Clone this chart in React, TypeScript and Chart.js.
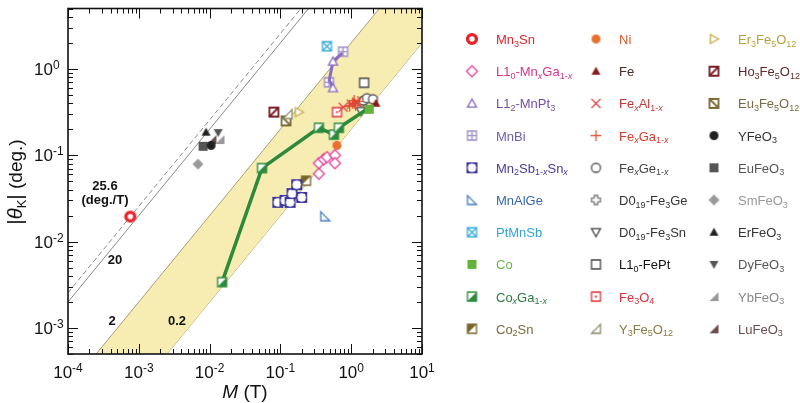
import { useEffect, useRef } from 'react';
import { Chart, registerables } from 'chart.js';

Chart.register(...registerables);

const FONT = "'Liberation Sans', Arial, sans-serif";

// Axis ranges and tick decades
const M_MIN = 1e-4;
const M_MAX = 10;
const T_MIN = 5e-4;
const T_MAX = 5;
const xDecades = [-4, -3, -2, -1, 0, 1];
const yDecades = [-3, -2, -1, 0];

// Reference slopes |theta_K| / M (deg./T)
const dashedSlope = 25.6;
const solidSlope = 20;
const bandHigh = 2;
const bandLow = 0.2;

// Series data: x = M (T), y = |theta_K| (deg.)
const mn3sn = [{ x: 7.6e-4, y: 0.0195 }];
const mnGa = [
  { x: 0.35, y: 0.061 }, { x: 0.35, y: 0.081 }, { x: 0.41, y: 0.09 },
  { x: 0.455, y: 0.095 }, { x: 0.59, y: 0.1 }, { x: 0.59, y: 0.081 },
];
const mnPt3 = [
  { x: 0.75, y: 1.52 }, { x: 0.553, y: 1.22 }, { x: 0.49, y: 0.74 }, { x: 0.553, y: 0.6 },
];
const mnPt3Hidden = [0, 2];
const mnBi = [{ x: 0.766, y: 1.58 }, { x: 0.485, y: 0.7 }];
const mn2Sb = [
  { x: 0.092, y: 0.0285 }, { x: 0.116, y: 0.03 }, { x: 0.137, y: 0.0285 },
  { x: 0.146, y: 0.036 }, { x: 0.2, y: 0.0325 }, { x: 0.17, y: 0.0456 },
];
const mnAlGe = [{ x: 0.43, y: 0.0197 }];
const ptMnSb = [{ x: 0.455, y: 1.83 }];
const co = [{ x: 1.8, y: 0.34 }];
const coGa = [
  { x: 0.015, y: 0.0034 }, { x: 0.055, y: 0.071 }, { x: 0.35, y: 0.208 },
  { x: 0.57, y: 0.173 }, { x: 0.67, y: 0.208 }, { x: 1.75, y: 0.35 },
];
const coGaHidden = [5];
const co2Sn = [{ x: 0.23, y: 0.0507 }];
const ni = [{ x: 0.63, y: 0.13 }];
const fe = [{ x: 2.24, y: 0.4 }];
const feAl = [{ x: 0.77, y: 0.36 }, { x: 1.0, y: 0.39 }, { x: 1.2, y: 0.41 }];
const feGa = [
  { x: 0.95, y: 0.37 }, { x: 1.05, y: 0.4 }, { x: 1.15, y: 0.38 },
  { x: 1.25, y: 0.42 }, { x: 1.1, y: 0.43 },
];
const feGe = [{ x: 1.5, y: 0.43 }, { x: 1.67, y: 0.457 }, { x: 2.03, y: 0.445 }];
const fe3Ge = [{ x: 1.42, y: 0.41 }];
const fe3Sn = [{ x: 1.37, y: 0.324 }];
const fePt = [{ x: 1.52, y: 0.69 }];
const fe3O4 = [{ x: 0.63, y: 0.316 }];
const y3Fe5O12 = [{ x: 0.126, y: 0.3 }];
const er3Fe5O12 = [{ x: 0.183, y: 0.316 }];
const ho3Fe5O12 = [{ x: 0.081, y: 0.316 }];
const eu3Fe5O12 = [{ x: 0.12, y: 0.25 }];
const yFeO3 = [{ x: 0.0105, y: 0.13 }];
const euFeO3 = [{ x: 0.0081, y: 0.127 }];
const smFeO3 = [{ x: 0.00685, y: 0.079 }];
const erFeO3 = [{ x: 0.0089, y: 0.185 }];
const dyFeO3 = [{ x: 0.0132, y: 0.183 }];
const ybFeO3 = [{ x: 0.014, y: 0.152 }];
const luFeO3 = [{ x: 0.0108, y: 0.152 }];

const seriesLabels = [
  'Mn_{3}Sn', 'L1_{0}-Mn_{x}Ga_{1-x}', 'L1_{2}-MnPt_{3}', 'MnBi', 'Mn_{2}Sb_{1-x}Sn_{x}',
  'MnAlGe', 'PtMnSb', 'Co', 'Co_{x}Ga_{1-x}', 'Co_{2}Sn',
  'Ni', 'Fe', 'Fe_{x}Al_{1-x}', 'Fe_{x}Ga_{1-x}', 'Fe_{x}Ge_{1-x}',
  'D0_{19}-Fe_{3}Ge', 'D0_{19}-Fe_{3}Sn', 'L1_{0}-FePt', 'Fe_{3}O_{4}', 'Y_{3}Fe_{5}O_{12}',
  'Er_{3}Fe_{5}O_{12}', 'Ho_{3}Fe_{5}O_{12}', 'Eu_{3}Fe_{5}O_{12}', 'YFeO_{3}', 'EuFeO_{3}',
  'SmFeO_{3}', 'ErFeO_{3}', 'DyFeO_{3}', 'YbFeO_{3}', 'LuFeO_{3}',
];
const seriesData = [
  mn3sn, mnGa, mnPt3, mnBi, mn2Sb, mnAlGe, ptMnSb, co, coGa, co2Sn,
  ni, fe, feAl, feGa, feGe, fe3Ge, fe3Sn, fePt, fe3O4, y3Fe5O12,
  er3Fe5O12, ho3Fe5O12, eu3Fe5O12, yFeO3, euFeO3, smFeO3, erFeO3, dyFeO3, ybFeO3, luFeO3,
];
const seriesKinds = [
  'ring', 'diamondOpen', 'triUpOpen', 'squareGrid', 'squareCircle', 'rtriA', 'squareX', 'squareFill', 'halfLR', 'halfUL',
  'circleFill', 'triUpFill', 'xcross', 'plus', 'circleOpen', 'crossOpen', 'triDownOpen', 'squareOpen', 'squareDot', 'rtriB',
  'triRightOpen', 'diagA', 'diagB', 'circleFill', 'squareFill', 'diamondFill', 'triUpFill', 'triDownFill', 'rtriBFill', 'rtriBFill',
];
const markerColors = [
  '#e8232b', '#e0449a', '#8668c0', '#9c8cc8', '#3c35a0', '#4a7cc0', '#32aadc', '#64b43c', '#2c8a3c', '#7a6428',
  '#ea7030', '#8c1c1c', '#e0403c', '#e4502c', '#555555', '#777777', '#444444', '#444444', '#e0303c', '#8c8c6c',
  '#c8a838', '#7c1c24', '#7a6a34', '#222222', '#555555', '#999999', '#222222', '#555555', '#999999', '#6c4c4c',
];
const textColors = [
  '#e8232b', '#d8348c', '#7050a8', '#7060b0', '#483c9c', '#3868b0', '#30a4dc', '#6cb844', '#2c7c40', '#7a6a38',
  '#dc5a30', '#502828', '#c03838', '#d83a2c', '#444444', '#333333', '#333333', '#111111', '#e0303c', '#8a7a44',
  '#b8a040', '#602828', '#7a6a44', '#333333', '#555555', '#999999', '#333333', '#555555', '#888888', '#6a4a4a',
];

function makeMarker(kind: string, color: string, s: number): HTMLCanvasElement {
  const pad = 3;
  const size = Math.ceil(s + pad * 2);
  const c = document.createElement('canvas');
  c.width = size;
  c.height = size;
  const g = c.getContext('2d') as CanvasRenderingContext2D;
  const cx = size / 2;
  const cy = size / 2;
  const h = s / 2;
  g.strokeStyle = color;
  g.fillStyle = color;
  g.lineWidth = 1.3;
  const poly = (pts: number[][]) => {
    g.beginPath();
    pts.forEach((p, i) => (i ? g.lineTo(cx + p[0], cy + p[1]) : g.moveTo(cx + p[0], cy + p[1])));
    g.closePath();
  };
  const white = () => {
    g.fillStyle = '#ffffff';
    g.fill();
    g.fillStyle = color;
  };
  const square = () => poly([[-h, -h], [h, -h], [h, h], [-h, h]]);
  const seg = (a: number, b: number, c2: number, d: number) => {
    g.beginPath();
    g.moveTo(cx + a, cy + b);
    g.lineTo(cx + c2, cy + d);
    g.stroke();
  };
  const diamond = () => poly([[0, -h - 1], [h + 1, 0], [0, h + 1], [-h - 1, 0]]);
  const triUp = () => poly([[0, -h], [h, h * 0.8], [-h, h * 0.8]]);
  const triDown = () => poly([[-h, -h * 0.8], [h, -h * 0.8], [0, h]]);
  switch (kind) {
    case 'ring':
      g.beginPath();
      g.arc(cx, cy, h - 1.6, 0, Math.PI * 2);
      white();
      g.lineWidth = 3.4;
      g.stroke();
      break;
    case 'diamondOpen': diamond(); white(); g.stroke(); break;
    case 'diamondFill': diamond(); g.fill(); break;
    case 'triUpOpen': triUp(); white(); g.stroke(); break;
    case 'triUpFill': triUp(); g.fill(); break;
    case 'triDownOpen': triDown(); white(); g.stroke(); break;
    case 'triDownFill': triDown(); g.fill(); break;
    case 'triRightOpen': poly([[-h * 0.8, -h], [h, 0], [-h * 0.8, h]]); white(); g.stroke(); break;
    case 'rtriA': poly([[-h, -h], [-h, h], [h, h]]); white(); g.stroke(); break;
    case 'rtriB': poly([[-h, h], [h, h], [h, -h]]); white(); g.stroke(); break;
    case 'rtriBFill': poly([[-h, h], [h, h], [h, -h]]); g.fill(); break;
    case 'squareOpen': square(); white(); g.stroke(); break;
    case 'squareFill': square(); g.fill(); break;
    case 'squareGrid': square(); white(); g.stroke(); seg(0, -h, 0, h); seg(-h, 0, h, 0); break;
    case 'squareX': square(); white(); g.stroke(); seg(-h, -h, h, h); seg(-h, h, h, -h); break;
    case 'squareDot': square(); white(); g.stroke(); g.fillRect(cx - 1, cy - 1, 2, 2); break;
    case 'squareCircle':
      g.lineWidth = 2;
      square(); white(); g.stroke();
      g.beginPath();
      g.arc(cx, cy, h * 0.95, 0, Math.PI * 2);
      g.fillStyle = '#ffffff';
      g.fill();
      break;
    case 'halfLR':
      square(); white();
      poly([[h, -h], [h, h], [-h, h]]); g.fill();
      square(); g.stroke();
      break;
    case 'halfUL':
      square(); white();
      poly([[-h, -h], [h, -h], [-h, h]]); g.fill();
      square(); g.stroke();
      break;
    case 'diagA': g.lineWidth = 1.8; square(); white(); g.stroke(); seg(-h, h, h, -h); break;
    case 'diagB': g.lineWidth = 1.8; square(); white(); g.stroke(); seg(-h, -h, h, h); break;
    case 'circleOpen': g.beginPath(); g.arc(cx, cy, h, 0, Math.PI * 2); white(); g.stroke(); break;
    case 'circleFill': g.beginPath(); g.arc(cx, cy, h, 0, Math.PI * 2); g.fill(); break;
    case 'xcross': seg(-h, -h, h, h); seg(-h, h, h, -h); break;
    case 'plus': seg(0, -h - 1, 0, h + 1); seg(-h - 1, 0, h + 1, 0); break;
    case 'crossOpen': {
      const a = h * 0.4;
      poly([[-a, -h], [a, -h], [a, -a], [h, -a], [h, a], [a, a], [a, h], [-a, h], [-a, a], [-h, a], [-h, -a], [-a, -a]]);
      white(); g.stroke();
      break;
    }
    default: break;
  }
  return c;
}

function drawRich(ctx: CanvasRenderingContext2D, label: string, x: number, y: number, color: string) {
  const parts: { t: string; sub: boolean }[] = [];
  const re = /_\{([^}]*)\}/g;
  let last = 0;
  let m: RegExpExecArray | null;
  while ((m = re.exec(label))) {
    if (m.index > last) parts.push({ t: label.slice(last, m.index), sub: false });
    parts.push({ t: m[1], sub: true });
    last = m.index + m[0].length;
  }
  if (last < label.length) parts.push({ t: label.slice(last), sub: false });
  ctx.fillStyle = color;
  ctx.textAlign = 'left';
  ctx.textBaseline = 'alphabetic';
  let cx = x;
  for (const p of parts) {
    if (!p.sub) {
      ctx.font = `13px ${FONT}`;
      ctx.fillText(p.t, cx, y);
      cx += ctx.measureText(p.t).width;
    } else {
      for (const ch of p.t) {
        ctx.font = ch === 'x' ? `italic 9px ${FONT}` : `9px ${FONT}`;
        ctx.fillText(ch, cx, y + 2.5);
        cx += ctx.measureText(ch).width;
      }
    }
  }
}

function drawPow(ctx: CanvasRenderingContext2D, exp: string, x: number, baseline: number, center: boolean) {
  ctx.fillStyle = '#111111';
  ctx.textAlign = 'left';
  ctx.textBaseline = 'alphabetic';
  ctx.font = `17px ${FONT}`;
  const wb = ctx.measureText('10').width;
  ctx.font = `12px ${FONT}`;
  const we = ctx.measureText(exp).width;
  const left = center ? x - (wb + we) / 2 : x;
  ctx.font = `17px ${FONT}`;
  ctx.fillText('10', left, baseline);
  ctx.font = `12px ${FONT}`;
  ctx.fillText(exp, left + wb, baseline - 6);
}

function makeDecorPlugin(markers: HTMLCanvasElement[]) {
  return {
    id: 'decor',
    afterDatasetsDraw(chart: any) {
      const ctx: CanvasRenderingContext2D = chart.ctx;
      const ca = chart.chartArea;
      const xs = chart.scales.x;
      const ys = chart.scales.y;
      ctx.save();
      ctx.strokeStyle = '#111111';
      ctx.lineWidth = 1;
      const tick = (x1: number, y1: number, x2: number, y2: number) => {
        ctx.beginPath();
        ctx.moveTo(x1, y1);
        ctx.lineTo(x2, y2);
        ctx.stroke();
      };
      for (let d = -4; d <= 1; d++) {
        for (let k = 1; k <= 9; k++) {
          const v = k * Math.pow(10, d);
          if (v < M_MIN * 0.999 || v > M_MAX * 1.001) continue;
          const px = Math.round(xs.getPixelForValue(v)) + 0.5;
          const len = k === 1 ? 10 : 5;
          tick(px, ca.bottom, px, ca.bottom - len);
          tick(px, ca.top, px, ca.top + len);
        }
      }
      for (let d = -4; d <= 0; d++) {
        for (let k = 1; k <= 9; k++) {
          const v = k * Math.pow(10, d);
          if (v < T_MIN * 0.999 || v > T_MAX * 1.001) continue;
          const py = Math.round(ys.getPixelForValue(v)) + 0.5;
          const len = k === 1 ? 10 : 5;
          tick(ca.left, py, ca.left + len, py);
          tick(ca.right, py, ca.right - len, py);
        }
      }
      ctx.lineWidth = 1.6;
      ctx.strokeRect(ca.left, ca.top, ca.right - ca.left, ca.bottom - ca.top);

      for (const d of xDecades) {
        drawPow(ctx, String(d), xs.getPixelForValue(Math.pow(10, d)), 378, true);
      }
      for (const d of yDecades) {
        drawPow(ctx, String(d), 34, ys.getPixelForValue(Math.pow(10, d)) + 6, false);
      }

      // x title
      ctx.fillStyle = '#111111';
      ctx.textBaseline = 'alphabetic';
      ctx.textAlign = 'left';
      ctx.font = `italic 19px ${FONT}`;
      const wM = ctx.measureText('M').width;
      ctx.font = `19px ${FONT}`;
      const wT = ctx.measureText(' (T)').width;
      const xc = (ca.left + ca.right) / 2;
      const xx = xc - (wM + wT) / 2;
      ctx.font = `italic 19px ${FONT}`;
      ctx.fillText('M', xx, 398);
      ctx.font = `19px ${FONT}`;
      ctx.fillText(' (T)', xx + wM, 398);

      // y title (rotated)
      ctx.save();
      ctx.translate(22, 182);
      ctx.rotate(-Math.PI / 2);
      const segs = [
        { t: '|', f: `21px ${FONT}`, dy: 0 },
        { t: 'θ', f: `italic 20px ${FONT}`, dy: 0 },
        { t: 'K', f: `13px ${FONT}`, dy: 4 },
        { t: '|', f: `21px ${FONT}`, dy: 0 },
        { t: ' (deg.)', f: `19px ${FONT}`, dy: 0 },
      ];
      let tw = 0;
      for (const s of segs) {
        ctx.font = s.f;
        tw += ctx.measureText(s.t).width;
      }
      let ux = -tw / 2;
      for (const s of segs) {
        ctx.font = s.f;
        ctx.fillText(s.t, ux, s.dy);
        ux += ctx.measureText(s.t).width;
      }
      ctx.restore();

      // slope annotations
      ctx.fillStyle = '#111111';
      ctx.textAlign = 'center';
      ctx.font = `bold 13px ${FONT}`;
      ctx.fillText('25.6', 105, 190);
      ctx.fillText('(deg./T)', 105, 204);
      ctx.fillText('20', 115, 264);
      ctx.fillText('2', 112, 325);
      ctx.fillText('0.2', 177, 325);

      // legend
      const colMarkX = [472, 596, 714];
      const colTextX = [496, 619, 738];
      seriesLabels.forEach((lab, i) => {
        const col = Math.floor(i / 10);
        const row = i % 10;
        const y = 39 + row * 32.2;
        const mk = markers[i];
        ctx.drawImage(mk, colMarkX[col] - mk.width / 2, y - mk.height / 2);
        drawRich(ctx, lab, colTextX[col], y + 5, textColors[i]);
      });
      ctx.restore();
    },
  };
}

const refLine = (k: number) => [
  { x: M_MIN, y: k * M_MIN },
  { x: M_MAX, y: k * M_MAX },
];

export default function App() {
  const ref = useRef<HTMLCanvasElement | null>(null);
  useEffect(() => {
    document.body.style.margin = '0';
    const canvas = ref.current;
    if (!canvas) return;
    const markers = seriesKinds.map((k, i) => makeMarker(k, markerColors[i], k === 'ring' ? 12 : 9));
    const datasets: any[] = [
      {
        type: 'line', data: refLine(bandHigh), borderColor: '#a99f74', borderWidth: 1,
        pointRadius: 0, fill: 1, backgroundColor: '#f7edb2', order: 100,
      },
      {
        type: 'line', data: refLine(bandLow), borderColor: '#a99f74', borderWidth: 1,
        pointRadius: 0, fill: false, order: 101,
      },
      {
        type: 'line', data: refLine(solidSlope), borderColor: '#8a8a8a', borderWidth: 1,
        pointRadius: 0, fill: false, order: 102,
      },
      {
        type: 'line', data: refLine(dashedSlope), borderColor: '#8a8a8a', borderWidth: 1,
        borderDash: [5, 3], pointRadius: 0, fill: false, order: 103,
      },
    ];
    seriesLabels.forEach((lab, i) => {
      const data = seriesData[i];
      let radius: any = 5;
      if (i === 2) radius = data.map((_, j) => (mnPt3Hidden.includes(j) ? 0 : 5));
      if (i === 8) radius = data.map((_, j) => (coGaHidden.includes(j) ? 0 : 5));
      const lineOpts: any = {};
      if (i === 2) Object.assign(lineOpts, { showLine: true, borderColor: '#8a6cc4', borderWidth: 3 });
      else if (i === 8) Object.assign(lineOpts, { showLine: true, borderColor: '#2e8a3a', borderWidth: 3.5 });
      else if (i === 12) Object.assign(lineOpts, { showLine: true, borderColor: '#e0403c', borderWidth: 1 });
      else lineOpts.showLine = false;
      datasets.push({
        type: 'scatter',
        label: lab,
        data,
        pointStyle: markers[i],
        pointRadius: radius,
        order: i,
        ...lineOpts,
      });
    });
    const chart: any = new Chart(canvas, {
      type: 'scatter',
      data: { datasets },
      options: {
        animation: false,
        responsive: false,
        events: [],
        layout: { padding: { left: 68, right: 378, top: 2, bottom: 49 } },
        scales: {
          x: { type: 'logarithmic', min: M_MIN, max: M_MAX, display: false },
          y: { type: 'logarithmic', min: T_MIN, max: T_MAX, display: false },
        },
        plugins: { legend: { display: false }, tooltip: { enabled: false } },
      },
      plugins: [makeDecorPlugin(markers)],
    } as any);
    return () => chart.destroy();
  }, []);
  return <canvas ref={ref} width={800} height={403} style={{ display: 'block' }} />;
}
